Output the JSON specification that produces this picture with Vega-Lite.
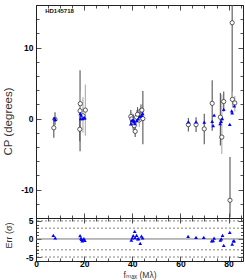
{
  "$schema": "https://vega.github.io/schema/vega-lite/v6.json",
  "padding": {"left": 1, "top": 0, "right": 0, "bottom": 1},
  "background": "white",
  "spacing": 0,
  "bounds": "flush",
  "config": {
    "view": {"stroke": "#222", "strokeWidth": 1},
    "axis": {"tickColor": "#222", "tickWidth": 0.8, "labelColor": "#000", "domain": false, "grid": false, "labelOverlap": false, "labelFlush": false, "labelFont": "Liberation Sans", "titleFont": "Liberation Sans, DejaVu Sans"}
  },
  "datasets": {
    "obs": [
      {"f": 7.4, "cp": -1.3, "lo": -2.7, "hi": 0.2, "set": "a"},
      {"f": 7.9, "cp": -0.1, "lo": -0.9, "hi": 0.9, "set": "a"},
      {"f": 18.3, "cp": 1.1, "lo": -4.6, "hi": 6.8, "set": "a"},
      {"f": 18.4, "cp": 2.1, "lo": 0.3, "hi": 3.9, "set": "b"},
      {"f": 18.2, "cp": -1.5, "lo": -3.2, "hi": 0.2, "set": "a"},
      {"f": 19.5, "cp": 0.4, "lo": -2.0, "hi": 3.0, "set": "b"},
      {"f": 20.5, "cp": 1.2, "lo": -2.4, "hi": 4.8, "set": "b"},
      {"f": 39.4, "cp": 0.3, "lo": -0.6, "hi": 1.2, "set": "a"},
      {"f": 39.8, "cp": -0.05, "lo": -1.0, "hi": 0.9, "set": "b"},
      {"f": 40.4, "cp": -0.5, "lo": -1.6, "hi": 0.6, "set": "a"},
      {"f": 40.8, "cp": -1.0, "lo": -2.0, "hi": 0.0, "set": "b"},
      {"f": 41.2, "cp": -1.8, "lo": -2.6, "hi": -0.9, "set": "a"},
      {"f": 41.8, "cp": 0.2, "lo": -0.8, "hi": 1.2, "set": "b"},
      {"f": 42.2, "cp": 0.6, "lo": -0.4, "hi": 1.6, "set": "a"},
      {"f": 42.9, "cp": -0.2, "lo": -1.2, "hi": 0.8, "set": "b"},
      {"f": 43.6, "cp": 1.1, "lo": 0.2, "hi": 2.0, "set": "a"},
      {"f": 44.0, "cp": 1.2, "lo": 0.4, "hi": 2.0, "set": "b"},
      {"f": 44.4, "cp": 0.0, "lo": -3.6, "hi": 3.9, "set": "a"},
      {"f": 63.3, "cp": -0.85, "lo": -1.8, "hi": 0.1, "set": "a"},
      {"f": 66.5, "cp": -0.85, "lo": -1.9, "hi": 0.2, "set": "a"},
      {"f": 69.9, "cp": -1.45, "lo": -3.6, "hi": 0.7, "set": "a"},
      {"f": 73.2, "cp": 2.15, "lo": -1.7, "hi": 5.4, "set": "a"},
      {"f": 76.6, "cp": 0.2, "lo": -3.8, "hi": 3.6, "set": "a"},
      {"f": 77.2, "cp": -2.6, "lo": -5.0, "hi": 3.4, "set": "b"},
      {"f": 78.0, "cp": 2.4, "lo": 1.0, "hi": 3.8, "set": "a"},
      {"f": 80.6, "cp": -11.5, "lo": -13.9, "hi": -5.4, "set": "a"},
      {"f": 81.5, "cp": 13.5, "lo": 2.7, "hi": 24, "set": "a"},
      {"f": 81.6, "cp": 2.7, "lo": 1.6, "hi": 3.8, "set": "b"},
      {"f": 82.6, "cp": 2.2, "lo": 1.0, "hi": 3.2, "set": "b"}
    ],
    "model": [
      {"f": 7.6, "cp": 0.05}, {"f": 8.0, "cp": -0.1},
      {"f": 18.4, "cp": 0.7}, {"f": 18.6, "cp": 0.0}, {"f": 18.8, "cp": 0.5}, {"f": 19.4, "cp": 0.0}, {"f": 19.9, "cp": 0.1}, {"f": 20.3, "cp": 0.1},
      {"f": 39.4, "cp": -0.75}, {"f": 39.8, "cp": -0.3}, {"f": 40.3, "cp": -0.15}, {"f": 40.7, "cp": -0.4}, {"f": 41.1, "cp": -0.7}, {"f": 41.8, "cp": -0.3}, {"f": 42.5, "cp": -0.05}, {"f": 43.2, "cp": 0.3}, {"f": 43.9, "cp": 0.45}, {"f": 44.3, "cp": 0.7},
      {"f": 63.3, "cp": -0.45}, {"f": 66.5, "cp": -0.45}, {"f": 69.9, "cp": -0.5}, {"f": 73.2, "cp": -0.4}, {"f": 73.6, "cp": -1.0}, {"f": 74.0, "cp": 0.5}, {"f": 76.5, "cp": -0.7}, {"f": 76.9, "cp": -0.4}, {"f": 77.4, "cp": 0.0}, {"f": 78.0, "cp": 1.3}, {"f": 80.5, "cp": -0.8}, {"f": 81.3, "cp": 1.1}, {"f": 81.5, "cp": 0.8}, {"f": 82.4, "cp": 1.8}
    ],
    "resid": [
      {"f": 7.2, "err": 1.0}, {"f": 8.0, "err": 0.3},
      {"f": 18.3, "err": 0.9}, {"f": 18.7, "err": 0.2}, {"f": 18.9, "err": -0.1}, {"f": 19.4, "err": -0.3}, {"f": 19.9, "err": 0.1}, {"f": 20.3, "err": -0.4}, {"f": 19.2, "err": -0.5},
      {"f": 39.6, "err": -0.3}, {"f": 40.0, "err": 0.3}, {"f": 40.4, "err": 0.9}, {"f": 41.0, "err": 2.1}, {"f": 41.2, "err": 0.4}, {"f": 41.8, "err": 1.0}, {"f": 42.3, "err": 0.0}, {"f": 42.6, "err": 0.1}, {"f": 43.3, "err": -1.2}, {"f": 43.8, "err": 0.8}, {"f": 44.3, "err": 0.3},
      {"f": 63.2, "err": 0.7}, {"f": 66.5, "err": 0.45}, {"f": 69.7, "err": 0.45}, {"f": 73.0, "err": -0.5}, {"f": 73.6, "err": -0.45}, {"f": 74.0, "err": 0.2}, {"f": 76.6, "err": -0.3}, {"f": 77.0, "err": 0.0}, {"f": 77.5, "err": 1.0}, {"f": 78.0, "err": -1.8}, {"f": 80.5, "err": 1.8}, {"f": 81.5, "err": -1.4}, {"f": 82.0, "err": -0.5}, {"f": 82.3, "err": -0.5}
    ],
    "lines": [{"v": -5}, {"v": -3}, {"v": 0}, {"v": 3}, {"v": 5}]
  },
  "vconcat": [
    {
      "width": 207,
      "height": 213,
      "resolve": {"axis": {"x": "independent", "y": "independent"}},
      "layer": [
        {
          "data": {"name": "obs"},
          "mark": {"type": "rule", "clip": true, "strokeWidth": 1.1},
          "encoding": {
            "x": {"field": "f", "type": "quantitative", "scale": {"domain": [0, 86], "nice": false, "zero": false},
              "axis": {"orient": "bottom", "values": [0,5,10,15,20,25,30,35,40,45,50,55,60,65,70,75,80,85], "labels": false, "title": null,
                "tickSize": {"condition": {"test": "datum.value % 20 === 0", "value": -5}, "value": -3}}},
            "y": {"field": "lo", "type": "quantitative", "scale": {"domain": [-14, 16], "nice": false, "zero": false},
              "axis": {"orient": "left", "values": [-14,-12,-10,-8,-6,-4,-2,0,2,4,6,8,10,12,14,16],
                "labelExpr": "datum.value % 10 === 0 ? '' + datum.value : ''", "labelFontWeight": "bold", "labelFontSize": 8.5, "labelPadding": 8,
                "tickSize": {"condition": {"test": "datum.value % 10 === 0", "value": -5}, "value": -3},
                "title": "CP (degrees)", "titleFontSize": 11.5, "titleFontWeight": "normal", "titleColor": "#333", "titleX": -23, "titleY": 116}},
            "y2": {"field": "hi"},
            "color": {"field": "set", "type": "nominal", "scale": {"domain": ["a", "b"], "range": ["#555555", "#ababab"]}, "legend": null}
          }
        },
        {
          "data": {"name": "obs"},
          "mark": {"type": "point", "shape": "circle", "filled": true, "fill": "white", "stroke": "#333", "strokeWidth": 0.8, "size": 18, "opacity": 1},
          "encoding": {
            "x": {"field": "f", "type": "quantitative", "scale": {"domain": [0, 86], "nice": false, "zero": false},
              "axis": {"orient": "top", "values": [0,5,10,15,20,25,30,35,40,45,50,55,60,65,70,75,80,85], "labels": false, "title": null,
                "tickSize": {"condition": {"test": "datum.value % 20 === 0", "value": -5}, "value": -3}}},
            "y": {"field": "cp", "type": "quantitative", "scale": {"domain": [-14, 16], "nice": false, "zero": false},
              "axis": {"orient": "right", "values": [-14,-12,-10,-8,-6,-4,-2,0,2,4,6,8,10,12,14,16], "labels": false, "title": null,
                "tickSize": {"condition": {"test": "datum.value % 10 === 0", "value": -5}, "value": -3}}}
          }
        },
        {
          "data": {"name": "model"},
          "mark": {"type": "point", "shape": "triangle-up", "filled": true, "color": "#0000ff", "size": 14, "opacity": 1},
          "encoding": {
            "x": {"field": "f", "type": "quantitative", "scale": {"domain": [0, 86], "nice": false, "zero": false}, "axis": null},
            "y": {"field": "cp", "type": "quantitative", "scale": {"domain": [-14, 16], "nice": false, "zero": false}, "axis": null}
          }
        },
        {
          "data": {"values": [{"name": "HD145718"}]},
          "mark": {"type": "text", "align": "left", "baseline": "middle", "fontSize": 6, "fontWeight": "bold", "font": "Liberation Sans", "color": "#111"},
          "encoding": {
            "x": {"datum": 3.8, "type": "quantitative", "scale": {"domain": [0, 86], "nice": false, "zero": false}, "axis": null},
            "y": {"datum": 15.1, "type": "quantitative", "scale": {"domain": [-14, 16], "nice": false, "zero": false}, "axis": null},
            "text": {"field": "name"}
          }
        }
      ]
    },
    {
      "width": 207,
      "height": 43,
      "resolve": {"axis": {"x": "independent", "y": "independent"}},
      "layer": [
        {
          "data": {"name": "lines"},
          "transform": [{"filter": "datum.v !== 0"}],
          "mark": {"type": "rule", "strokeDash": [2, 2], "color": "#666", "strokeWidth": 0.8},
          "encoding": {
            "y": {"field": "v", "type": "quantitative", "scale": {"domain": [-6.1, 5.8], "nice": false, "zero": false},
              "axis": {"orient": "left", "values": [-6,-5,-4,-3,-2,-1,0,1,2,3,4,5],
                "labelExpr": "datum.value % 5 === 0 ? '' + datum.value : ''", "labelFontWeight": "bold", "labelFontSize": 8.5, "labelPadding": 8,
                "tickSize": {"condition": {"test": "datum.value % 5 === 0", "value": -5}, "value": -2.5},
                "title": "Err (σ)", "titleFontSize": 9, "titleFontWeight": "normal", "titleColor": "#333", "titleX": -23, "titleY": 17}}
          }
        },
        {
          "data": {"name": "lines"},
          "transform": [{"filter": "datum.v === 0"}],
          "mark": {"type": "rule", "color": "#777", "strokeWidth": 1},
          "encoding": {
            "y": {"field": "v", "type": "quantitative", "scale": {"domain": [-6.1, 5.8], "nice": false, "zero": false},
              "axis": {"orient": "right", "values": [-6,-5,-4,-3,-2,-1,0,1,2,3,4,5], "labels": false, "title": null,
                "tickSize": {"condition": {"test": "datum.value % 5 === 0", "value": -5}, "value": -2.5}}}
          }
        },
        {
          "data": {"name": "resid"},
          "mark": {"type": "point", "shape": "triangle-up", "filled": true, "color": "#0000ff", "size": 14, "opacity": 0},
          "encoding": {
            "x": {"field": "f", "type": "quantitative", "scale": {"domain": [0, 86], "nice": false, "zero": false},
              "axis": {"orient": "top", "values": [0,5,10,15,20,25,30,35,40,45,50,55,60,65,70,75,80,85], "labels": false, "title": null,
                "tickSize": {"condition": {"test": "datum.value % 20 === 0", "value": -5}, "value": -3}}},
            "y": {"field": "err", "type": "quantitative", "scale": {"domain": [-6.1, 5.8], "nice": false, "zero": false}, "axis": null}
          }
        },
        {
          "data": {"name": "resid"},
          "mark": {"type": "point", "shape": "triangle-up", "filled": true, "color": "#0000ff", "size": 14, "opacity": 1},
          "encoding": {
            "x": {"field": "f", "type": "quantitative", "scale": {"domain": [0, 86], "nice": false, "zero": false},
              "axis": {"orient": "bottom", "values": [0,5,10,15,20,25,30,35,40,45,50,55,60,65,70,75,80,85],
                "labelExpr": "datum.value % 20 === 0 ? '' + datum.value : ''", "labelFontWeight": "bold", "labelFontSize": 8.5, "labelPadding": 3,
                "tickSize": {"condition": {"test": "datum.value % 20 === 0", "value": -5}, "value": -3},
                "title": "fₘₐₓ (Mλ)", "titleFontSize": 8.5, "titleFontWeight": "normal", "titleColor": "#333", "titlePadding": 1}},
            "y": {"field": "err", "type": "quantitative", "scale": {"domain": [-6.1, 5.8], "nice": false, "zero": false}, "axis": null}
          }
        }
      ]
    }
  ]
}
